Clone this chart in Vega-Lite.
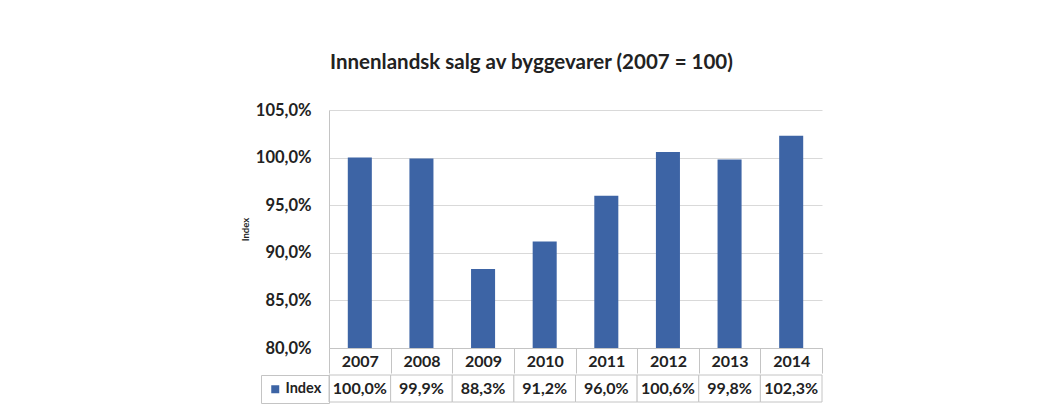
{
  "$schema": "https://vega.github.io/schema/vega-lite/v6.json",
  "background": "white",
  "padding": {"left": 240, "top": 52, "right": 5, "bottom": 5},
  "title": {"text": "Innenlandsk salg av byggevarer (2007 = 100)", "font": "Lato", "fontSize": 20.5, "fontWeight": "bold", "color": "#222222", "anchor": "middle", "offset": 29},
  "data": {"values": [
    {"year": "2007", "index": 1.000},
    {"year": "2008", "index": 0.999},
    {"year": "2009", "index": 0.883},
    {"year": "2010", "index": 0.912},
    {"year": "2011", "index": 0.960},
    {"year": "2012", "index": 1.006},
    {"year": "2013", "index": 0.998},
    {"year": "2014", "index": 1.023}
  ]},
  "spacing": 0,
  "resolve": {"legend": {"color": "independent"}},
  "vconcat": [
    {
      "width": 493,
      "height": 238,
      "mark": {"type": "bar", "color": "#3d64a5", "width": {"band": 0.39}, "clip": true},
      "encoding": {
        "x": {"field": "year", "type": "nominal", "scale": {"paddingInner": 0, "paddingOuter": 0},
          "axis": {"title": null, "labelAngle": 0, "labelFont": "Lato", "labelFontSize": 16, "labelFontWeight": "bold", "labelColor": "#222222",
            "domainColor": "#c4c4c4", "tickColor": "#c4c4c4", "tickSize": 25, "tickBand": "extent", "labelPadding": -12, "labelBaseline": "middle",
            "minExtent": 23, "maxExtent": 23, "grid": false}},
        "y": {"field": "index", "type": "quantitative", "scale": {"domain": [0.8, 1.05], "nice": false, "zero": false},
          "axis": {"title": "Index", "titleFont": "Lato", "titleFontSize": 9.5, "titleFontWeight": "bold", "titleColor": "#222222", "titlePadding": 5,
            "values": [0.8, 0.85, 0.9, 0.95, 1.0, 1.05], "format": ".1%", "labelFont": "Lato", "labelFontSize": 16.5, "labelFontWeight": "bold",
            "labelColor": "#222222", "labelPadding": 18, "ticks": false, "domainColor": "#c4c4c4", "gridColor": "#d9d9d9"}}
      }
    },
    {
      "width": 493,
      "height": 27,
      "layer": [
        {
          "mark": {"type": "square", "size": 64, "opacity": 1},
          "encoding": {
            "x": {"field": "year", "type": "nominal", "axis": null},
            "color": {"datum": "Index", "scale": {"range": ["#3d64a5"]},
              "legend": {"title": null, "orient": "left", "offset": 0, "padding": 7, "strokeColor": "#c4c4c4", "symbolType": "square", "symbolSize": 64,
                "symbolOpacity": 1, "symbolStrokeWidth": 0, "labelFont": "Lato", "labelFontSize": 14.5, "labelFontWeight": "bold", "labelColor": "#222222", "labelOffset": 3}}
          }
        },
        {
          "mark": {"type": "bar", "fill": "white", "stroke": "#c4c4c4", "strokeWidth": 1},
          "encoding": {"x": {"field": "year", "type": "nominal", "axis": null}}
        },
        {
          "mark": {"type": "text", "font": "Lato", "fontSize": 16, "fontWeight": "bold", "color": "#222222"},
          "encoding": {
            "x": {"field": "year", "type": "nominal", "axis": null},
            "text": {"field": "index", "type": "quantitative", "format": ".1%"}
          }
        }
      ]
    }
  ],
  "config": {
    "view": {"stroke": null},
    "locale": {"number": {"decimal": ",", "thousands": "\u00a0", "grouping": [3], "currency": ["", " kr"]}}
  }
}
